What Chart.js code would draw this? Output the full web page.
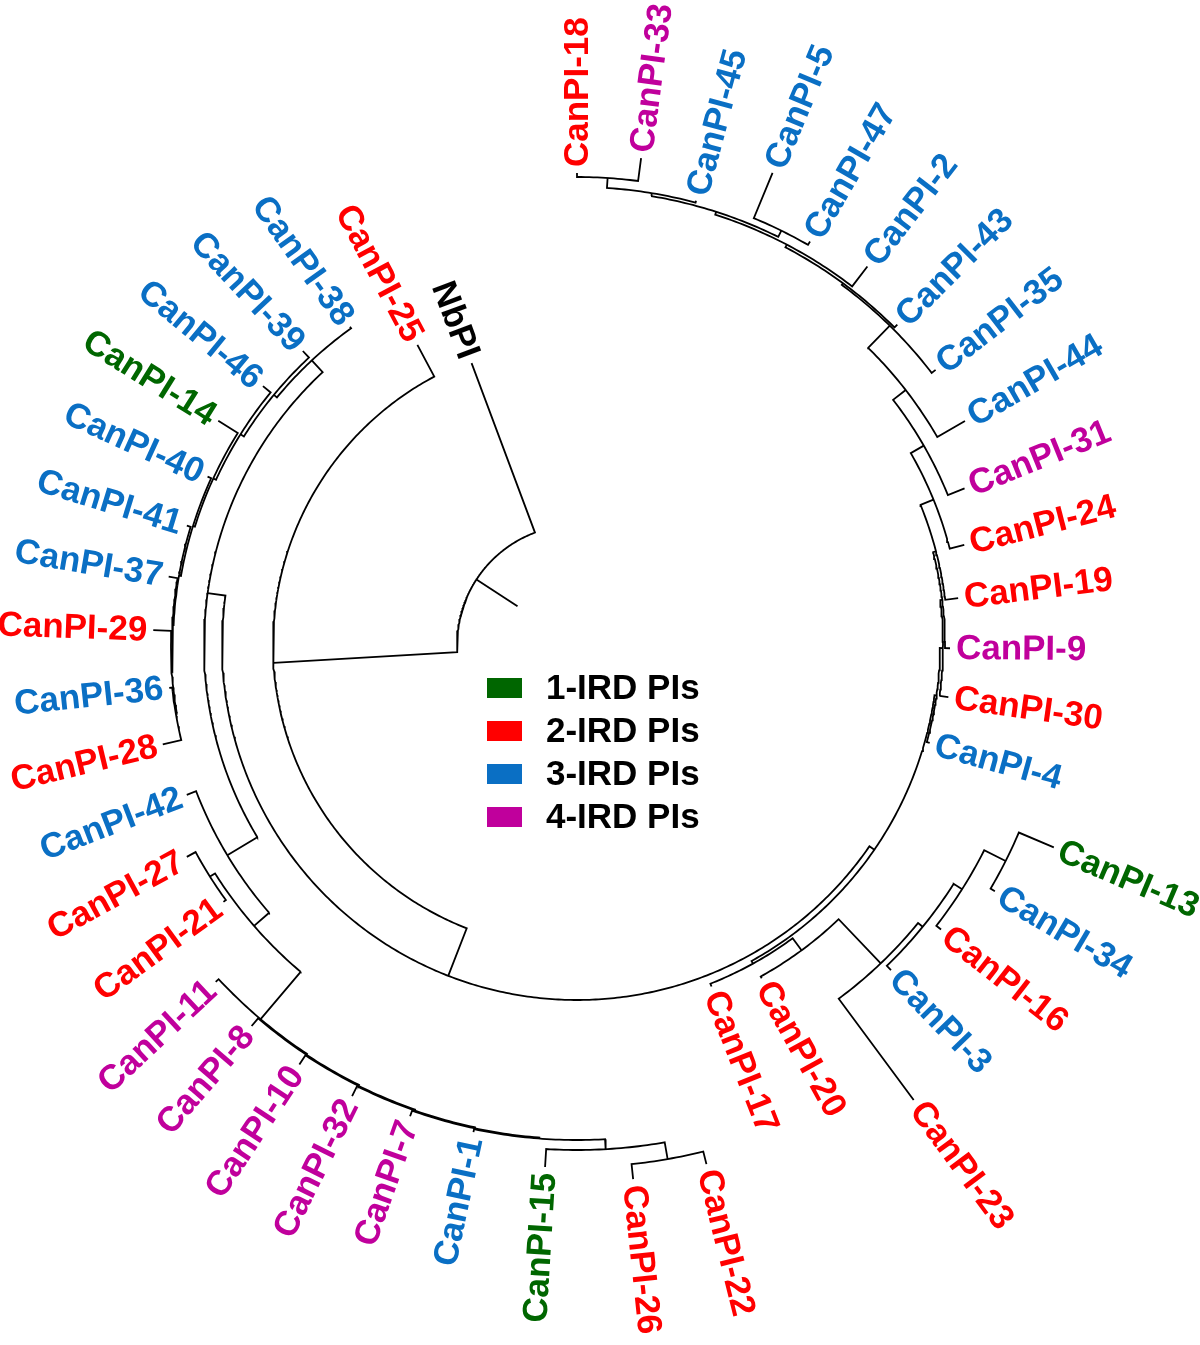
<!DOCTYPE html>
<html>
<head>
<meta charset="utf-8">
<script src="https://cdn.jsdelivr.net/npm/chart.js@4.4.1/dist/chart.umd.min.js"></script>
<style>
  html, body { margin: 0; padding: 0; background: #fff; }
  canvas { display: block; }
</style>
</head>
<body>
<canvas id="tree" width="1200" height="1345"></canvas>
<script>
// leaves, going round the circle from NbPI (angles in degrees, counter-clockwise)
const leafNames = ['NbPI', 'CanPI-25', 'CanPI-38', 'CanPI-39', 'CanPI-46', 'CanPI-14', 'CanPI-40', 'CanPI-41',
  'CanPI-37', 'CanPI-29', 'CanPI-36', 'CanPI-28', 'CanPI-42', 'CanPI-27', 'CanPI-21', 'CanPI-11', 'CanPI-8',
  'CanPI-10', 'CanPI-32', 'CanPI-7', 'CanPI-1', 'CanPI-15', 'CanPI-26', 'CanPI-22', 'CanPI-17', 'CanPI-20',
  'CanPI-23', 'CanPI-3', 'CanPI-16', 'CanPI-34', 'CanPI-13', 'CanPI-4', 'CanPI-30', 'CanPI-9', 'CanPI-19',
  'CanPI-24', 'CanPI-31', 'CanPI-44', 'CanPI-35', 'CanPI-43', 'CanPI-2', 'CanPI-47', 'CanPI-5', 'CanPI-45',
  'CanPI-33', 'CanPI-18'];
const leafGroups = [0, 2, 3, 3, 3, 1, 3, 3,
  3, 2, 3, 2, 3, 2, 2, 4, 4,
  4, 4, 4, 3, 1, 2, 2, 2, 2,
  2, 3, 2, 3, 1, 3, 2, 4, 2,
  2, 4, 3, 3, 3, 3, 3, 3, 3,
  4, 2];
const leafAngles = [110.5, 118, 125.5, 133, 140.5, 148, 155.5, 163,
  170.5, 178, 186, 193.5, 201, 208.5, 216, 223, 229.5,
  236.5, 243.5, 250.5, 258, 266.5, 276, 284, 291.5, 299,
  306.5, 314, 322, 329.5, 337, 344.5, 352, 359.5, 367,
  374.5, 382, 390, 397.5, 405, 412.5, 420, 427.5, 435,
  442.5, 450];
const leafTips = [301, 340, 391, 402, 407, 423, 406, 408,
  414, 424, 410, 426, 418, 444, 437, 494, 501,
  503, 504, 500, 498, 523, 537, 535, 367, 381,
  566, 452, 462, 485, 518, 366, 375, 373, 384,
  400, 418, 448, 452, 453, 477, 466, 511, 460,
  491, 472];

// internal nodes: name, first child, second child, radius of the node
const nodeNames = ['root', 'A', 'B', 'L', 'U', 'U39', 'U46', 'U14', 'U40', 'U41', 'U37', 'U29', 'U36',
  'N1', 'N2', 'N3', 'N4', 'N5', 'N6', 'N7', 'N8', 'N9', 'N10', 'N11',
  'R', 'P', 'Q', 'W', 'C', 'D', 'E',
  'S', 'T30', 'T9', 'T19', 'T24', 'T31', 'T44', 'T35', 'T43', 'T2', 'T57', 'P547', 'T45', 'P3318'];
const nodeFirst = ['NbPI', 'CanPI-25', 'L', 'U', 'CanPI-38', 'CanPI-39', 'CanPI-46', 'CanPI-14', 'CanPI-40',
  'CanPI-41', 'CanPI-37', 'CanPI-29', 'CanPI-36',
  'CanPI-42', 'N3', 'CanPI-27', 'CanPI-11', 'CanPI-8', 'CanPI-10', 'CanPI-32', 'CanPI-7', 'CanPI-1', 'CanPI-15', 'CanPI-26',
  'P', 'CanPI-17', 'CanPI-20', 'CanPI-23', 'CanPI-3', 'CanPI-16', 'CanPI-34',
  'CanPI-4', 'CanPI-30', 'CanPI-9', 'CanPI-19', 'CanPI-24', 'CanPI-31', 'CanPI-44', 'CanPI-35', 'CanPI-43',
  'CanPI-2', 'P547', 'CanPI-47', 'CanPI-45', 'CanPI-33'];
const nodeSecond = ['A', 'B', 'R', 'N1', 'U39', 'U46', 'U14', 'U40', 'U41', 'U37', 'U29', 'U36', 'CanPI-28',
  'N2', 'N4', 'CanPI-21', 'N5', 'N6', 'N7', 'N8', 'N9', 'N10', 'N11', 'CanPI-22',
  'S', 'Q', 'W', 'C', 'D', 'E', 'CanPI-13',
  'T30', 'T9', 'T19', 'T24', 'T31', 'T44', 'T35', 'T43', 'T2', 'T57', 'T45', 'CanPI-5', 'P3318', 'CanPI-18'];
const nodeRadii = [120, 304, 355, 373, 389, 393, 397, 400, 402, 404, 405, 406, 407,
  408, 428, 434, 490, 491, 492, 493, 494, 495, 505, 522,
  361, 364, 379, 440, 446, 456, 480,
  363, 366, 368, 371, 385, 400, 416, 447, 449, 452, 455, 462, 458, 468];
const rootStub = 71;

const groupColors = ['#000000', '#006600', '#ff0000', '#0a6fc4', '#c0009c'];
const legendLabels = ['1-IRD PIs', '2-IRD PIs', '3-IRD PIs', '4-IRD PIs'];

// ---- build the layout from the arrays above
const pos = {};
leafNames.forEach((n, i) => { pos[n] = { a: leafAngles[i], r: leafTips[i] }; });
function place(name) {
  if (pos[name]) return pos[name];
  const k = nodeNames.indexOf(name);
  const c1 = place(nodeFirst[k]), c2 = place(nodeSecond[k]);
  pos[name] = { a: (c1.a + c2.a) / 2, r: nodeRadii[k] };
  return pos[name];
}
nodeNames.forEach(place);

const rad = d => d * Math.PI / 180;
const pt = (r, a) => ({ x: r * Math.cos(rad(a)), y: r * Math.sin(rad(a)) });

const branchSets = nodeNames.map((name, k) => {
  const p = pos[name], c1 = pos[nodeFirst[k]], c2 = pos[nodeSecond[k]];
  const line = [pt(c1.r, c1.a), pt(p.r, c1.a)];
  for (let a = c1.a + 0.5; a < c2.a; a += 0.5) line.push(pt(p.r, a));
  line.push(pt(p.r, c2.a), pt(c2.r, c2.a));
  return line;
});
branchSets.push([pt(pos.root.r, pos.root.a), pt(rootStub, pos.root.a)]);

const datasets = branchSets.map(d => ({
  data: d,
  showLine: true,
  borderColor: '#000',
  borderWidth: 1.8,
  pointRadius: 0,
  fill: false,
  tension: 0
}));

const labelFont = 'bold 35px "Liberation Sans", Arial, Helvetica, sans-serif';

const labelPlugin = {
  id: 'leafLabels',
  afterDatasetsDraw(chart) {
    const c = chart.ctx, xs = chart.scales.x, ys = chart.scales.y;
    c.save();
    c.font = labelFont;
    c.textBaseline = 'middle';
    leafNames.forEach((name, i) => {
      const a = leafAngles[i];
      const p = pt(leafTips[i] + 6, a);
      const norm = ((a % 360) + 360) % 360;
      const left = norm > 90.5 && norm < 270.5;
      c.save();
      c.translate(xs.getPixelForValue(p.x), ys.getPixelForValue(p.y));
      c.rotate(left ? Math.PI - rad(a) : -rad(a));
      c.textAlign = left ? 'right' : 'left';
      c.fillStyle = groupColors[leafGroups[i]];
      c.fillText(name, 0, 1);
      c.restore();
    });
    // legend in the middle of the tree
    legendLabels.forEach((t, i) => {
      const y = 688 + i * 43;
      c.fillStyle = groupColors[i + 1];
      c.fillRect(487, y - 10, 35, 20);
      c.fillStyle = '#000';
      c.textAlign = 'left';
      c.fillText(t, 546, y + 1);
    });
    c.restore();
  }
};

new Chart(document.getElementById('tree'), {
  type: 'scatter',
  data: { datasets },
  options: {
    responsive: false,
    animation: false,
    layout: { padding: 0 },
    scales: {
      x: { type: 'linear', min: -577, max: 623, display: false },
      y: { type: 'linear', min: -700, max: 645, display: false }
    },
    plugins: { legend: { display: false }, tooltip: { enabled: false } }
  },
  plugins: [labelPlugin]
});
</script>
</body>
</html>
